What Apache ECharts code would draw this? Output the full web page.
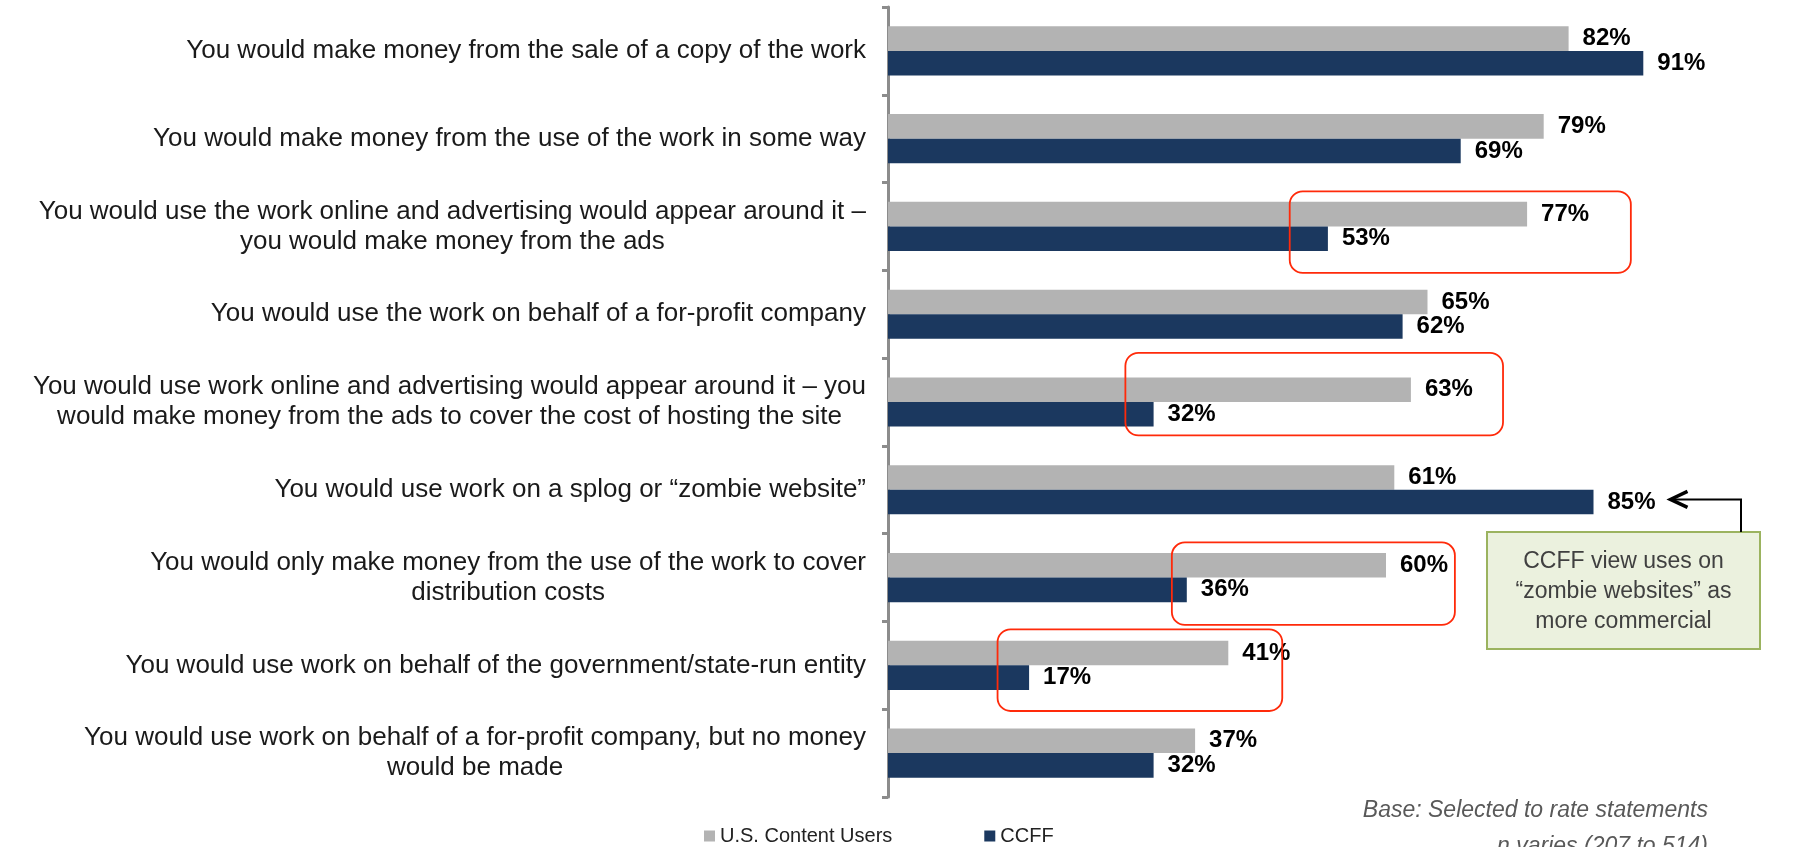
<!DOCTYPE html>
<html>
<head>
<meta charset="utf-8">
<script src="https://cdn.jsdelivr.net/npm/echarts@6/dist/echarts.min.js"></script>
<style>
html,body{margin:0;padding:0;background:#fff;}
#chart{width:1794px;height:847px;}
</style>
</head>
<body>
<div id="chart"></div>
<script>
const categories = [
  'You would make money from the sale of a copy of the work',
  'You would make money from the use of the work in some way',
  'You would use the work online and advertising would appear around it \u2013\nyou would make money from the ads',
  'You would use the work on behalf of a for-profit company',
  'You would use work online and advertising would appear around it \u2013 you\nwould make money from the ads to cover the cost of hosting the site',
  'You would use work on a splog or \u201Czombie website\u201D',
  'You would only make money from the use of the work to cover\ndistribution costs',
  'You would use work on behalf of the government/state-run entity',
  'You would use work on behalf of a for-profit company, but no money\nwould be made'
];
const seriesNames = ['U.S. Content Users', 'CCFF'];
const usContentUsers = [82, 79, 77, 65, 63, 61, 60, 41, 37];
const ccff = [91, 69, 53, 62, 32, 85, 36, 17, 32];
const calloutLines = ['CCFF view uses on', '\u201Czombie websites\u201D as', 'more commercial'];
const baseNoteLines = ['Base: Selected to rate statements', 'n varies (207 to 514)'];

// highlight boxes (value range on x, fractional category index on y)
const highlightBoxes = [
  {from: 48.4, to: 89.5, top: 1.60, bottom: 2.53},
  {from: 28.6, to: 74.1, top: 3.44, bottom: 4.38},
  {from: 34.2, to: 68.3, top: 5.60, bottom: 6.54},
  {from: 13.2, to: 47.5, top: 6.59, bottom: 7.52}
];

const GRAY = '#B3B3B3';
const NAVY = '#1B385F';
const SANS = "'Liberation Sans', Arial, sans-serif";

const chart = echarts.init(document.getElementById('chart'), null, {renderer: 'canvas'});

const labelStyle = {
  show: true,
  position: 'right',
  distance: 14,
  formatter: '{c}%',
  color: '#000',
  fontFamily: SANS,
  fontWeight: 'bold',
  fontSize: 24
};

chart.setOption({
  animation: false,
  backgroundColor: '#fff',
  grid: {left: 888, top: 7, width: 830, height: 790, containLabel: false, outerBoundsMode: 'none'},
  legend: {
    data: seriesNames,
    left: 704,
    top: 826,
    padding: 0,
    icon: 'rect',
    itemWidth: 11,
    itemHeight: 11,
    itemGap: 92,
    textStyle: {fontFamily: SANS, fontSize: 20, color: '#222'}
  },
  xAxis: {type: 'value', min: 0, max: 100, show: false},
  yAxis: {
    type: 'category',
    inverse: true,
    data: categories,
    axisLine: {show: true, lineStyle: {color: '#8C8C8C', width: 3}},
    axisTick: {show: true, length: 6, lineStyle: {color: '#8C8C8C', width: 3}},
    axisLabel: {
      margin: 22,
      align: 'right',
      formatter: function (v) {
        return v.split('\n').map(function (l) { return '{c|' + l + '}'; }).join('\n');
      },
      rich: {
        c: {align: 'center', fontFamily: SANS, fontSize: 26, color: '#1a1a1a', lineHeight: 30}
      }
    }
  },
  series: [
    {
      name: seriesNames[0], type: 'bar', data: usContentUsers,
      barGap: '0%', barCategoryGap: '44%',
      itemStyle: {color: GRAY},
      label: labelStyle
    },
    {
      name: seriesNames[1], type: 'bar', data: ccff,
      barGap: '0%', barCategoryGap: '44%',
      itemStyle: {color: NAVY},
      label: labelStyle
    }
  ]
});

function addGraphics() {
  const y0 = chart.convertToPixel({yAxisIndex: 0}, 0);
  const y1 = chart.convertToPixel({yAxisIndex: 0}, 1);
  const band = y1 - y0;
  const px = function (v) { return chart.convertToPixel({xAxisIndex: 0}, v); };
  const py = function (f) { return y0 + f * band; };
  const g = [];
  highlightBoxes.forEach(function (b) {
    const x1 = px(b.from), x2 = px(b.to), t = py(b.top), bt = py(b.bottom);
    g.push({
      type: 'rect', z: 100,
      shape: {x: x1, y: t, width: x2 - x1, height: bt - t, r: 13},
      style: {fill: null, stroke: '#FF2A0A', lineWidth: 1.8}
    });
  });
  // callout box
  const boxX = 1487, boxY = 532, boxW = 273, boxH = 117;
  g.push({
    type: 'rect', z: 100,
    shape: {x: boxX, y: boxY, width: boxW, height: boxH},
    style: {fill: '#EBF1DE', stroke: '#9BB35F', lineWidth: 2}
  });
  g.push({
    type: 'text', z: 101,
    x: boxX + boxW / 2, y: boxY + boxH / 2 + 1,
    style: {
      text: calloutLines.join('\n'),
      fill: '#404040', font: '23px ' + SANS,
      align: 'center', verticalAlign: 'middle', lineHeight: 30
    }
  });
  // arrow pointing to the CCFF 85% label
  const idx = 5;
  const arrowY = py(idx) + band * 0.11;
  const tipX = px(ccff[idx]) + 77;
  const stemX = 1741;
  g.push({
    type: 'polyline', z: 101,
    shape: {points: [[stemX, boxY], [stemX, arrowY], [tipX + 2, arrowY]]},
    style: {stroke: '#000', lineWidth: 2, fill: null}
  });
  g.push({
    type: 'polyline', z: 101,
    shape: {points: [[tipX + 17, arrowY - 8], [tipX, arrowY], [tipX + 17, arrowY + 8]]},
    style: {stroke: '#000', lineWidth: 3.5, fill: null, lineJoin: 'miter'}
  });
  // base note
  g.push({
    type: 'text', z: 101,
    x: 1708, y: 811,
    style: {text: baseNoteLines[0], fill: '#595959', font: 'italic 23px ' + SANS, align: 'right', verticalAlign: 'middle'}
  });
  g.push({
    type: 'text', z: 101,
    x: 1708, y: 847,
    style: {text: baseNoteLines[1], fill: '#595959', font: 'italic 23px ' + SANS, align: 'right', verticalAlign: 'middle'}
  });
  chart.setOption({graphic: g});
}
addGraphics();
</script>
</body>
</html>
